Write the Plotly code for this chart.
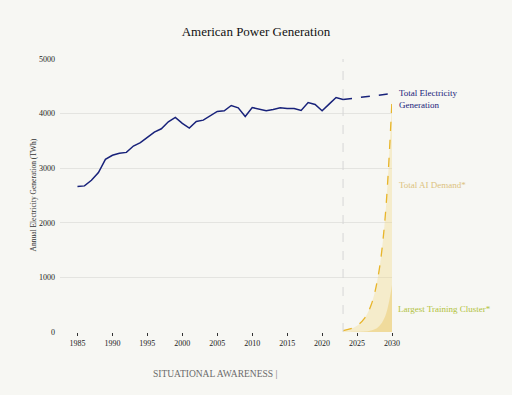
import plotly.graph_objects as go

years_hist = list(range(1985, 2024))
gen_hist = [2664, 2676, 2780, 2920, 3163, 3236, 3272, 3290, 3406, 3467,
            3564, 3662, 3722, 3850, 3929, 3820, 3735, 3856, 3880, 3954,
            4039, 4051, 4148, 4106, 3948, 4112, 4080, 4051, 4075, 4106,
            4094, 4094, 4057, 4203, 4167, 4051, 4173, 4294, 4258]

years_proj = [2023, 2030]
gen_proj = [4258, 4367]

years_ai = [2023, 2024, 2025, 2026, 2027, 2028, 2029, 2030]
ai_total = [27, 56, 115, 240, 490, 1010, 2070, 4250]
ai_cluster = [0.3, 0.9, 2.8, 8.8, 28, 88, 280, 860]

y_ticks = [0, 1000, 2000, 3000, 4000, 5000]
x_ticks = [1985, 1990, 1995, 2000, 2005, 2010, 2015, 2020, 2025, 2030]

FONT = "Liberation Serif"
NAVY = "#18227a"
GOLD = "#e8b52a"
BG = "#f7f7f3"
W, H = 512, 395
L, R, T, B = 60, 120, 59, 63
PW, PH = W - L - R, H - T - B

fig = go.Figure()

fig.add_trace(go.Scatter(
    x=years_ai, y=ai_total, mode="lines", line=dict(color=GOLD, width=1.3, dash="dash", shape="spline"),
    fill="tozeroy", fillcolor="rgba(242,214,130,0.35)", hoverinfo="skip", showlegend=False))
fig.add_trace(go.Scatter(
    x=years_ai, y=ai_cluster, mode="lines", line=dict(color="rgba(0,0,0,0)", width=0, shape="spline"),
    fill="tozeroy", fillcolor="rgba(236,200,100,0.45)", hoverinfo="skip", showlegend=False))
fig.add_trace(go.Scatter(
    x=years_hist, y=gen_hist, mode="lines", line=dict(color=NAVY, width=1.5),
    showlegend=False))
fig.add_trace(go.Scatter(
    x=years_proj, y=gen_proj, mode="lines", line=dict(color=NAVY, width=1.5, dash="dash"),
    showlegend=False))

fig.add_vline(x=2023, line=dict(color="#d6d6d6", width=1, dash="dash"))

fig.add_annotation(x=1, xref="paper", xanchor="left", xshift=5, y=gen_proj[-1], yref="y",
                   yanchor="middle", text="Total Electricity<br>Generation", showarrow=False,
                   align="left", font=dict(family=FONT, size=9, color=NAVY), yshift=-5)
fig.add_annotation(x=1, xref="paper", xanchor="left", xshift=5, y=2695, yref="y",
                   yanchor="middle", text="Total AI Demand*", showarrow=False,
                   align="left", font=dict(family=FONT, size=9, color="#dcc27e"))
fig.add_annotation(x=1, xref="paper", xanchor="left", xshift=4, y=430, yref="y",
                   yanchor="middle", text="Largest Training Cluster*", showarrow=False,
                   align="left", font=dict(family=FONT, size=9, color="#b2c23c"))
fig.add_annotation(x=(151 - L) / PW, xref="paper", xanchor="left",
                   y=-(374 - (T + PH)) / PH, yref="paper", yanchor="middle",
                   text="SITUATIONAL AWARENESS |", showarrow=False,
                   font=dict(family=FONT, size=9.5, color="#6a6a6a"))
fig.add_annotation(x=-(L - 33) / PW, xref="paper", xanchor="center",
                   y=0.5, yref="paper", yanchor="middle", textangle=-90,
                   text="Annual Electricity Generation (TWh)", showarrow=False,
                   font=dict(family=FONT, size=7.5, color="#333333"))

fig.update_layout(
    width=W, height=H,
    margin=dict(l=L, r=R, t=T, b=B, autoexpand=False),
    paper_bgcolor=BG, plot_bgcolor=BG,
    title=dict(text="American Power Generation", x=0.5, xanchor="center", y=1 - 31 / H, yanchor="middle",
               font=dict(family=FONT, size=13, color="#111111")),
    font=dict(family=FONT, size=8, color="#222222"),
    xaxis=dict(range=[1982.5, 2030], tickvals=x_ticks, showgrid=False, zeroline=False,
               showline=False, ticks="outside", ticklen=3, tickcolor="#333333", tickwidth=1,
               automargin=False, tickfont=dict(family=FONT, size=8, color="#222222")),
    yaxis=dict(range=[0, 5000], tickvals=y_ticks, showgrid=True, gridcolor="#e4e4e0", gridwidth=1,
               zeroline=False, showline=False, ticks="", automargin=False, ticklabelstandoff=4,
               tickfont=dict(family=FONT, size=8, color="#222222")),
)

fig.write_html(
    "out.html",
    config={"displayModeBar": False},
    post_script="document.body.style.margin='0';document.body.style.background='" + BG + "';document.body.style.overflow='hidden';",
)
